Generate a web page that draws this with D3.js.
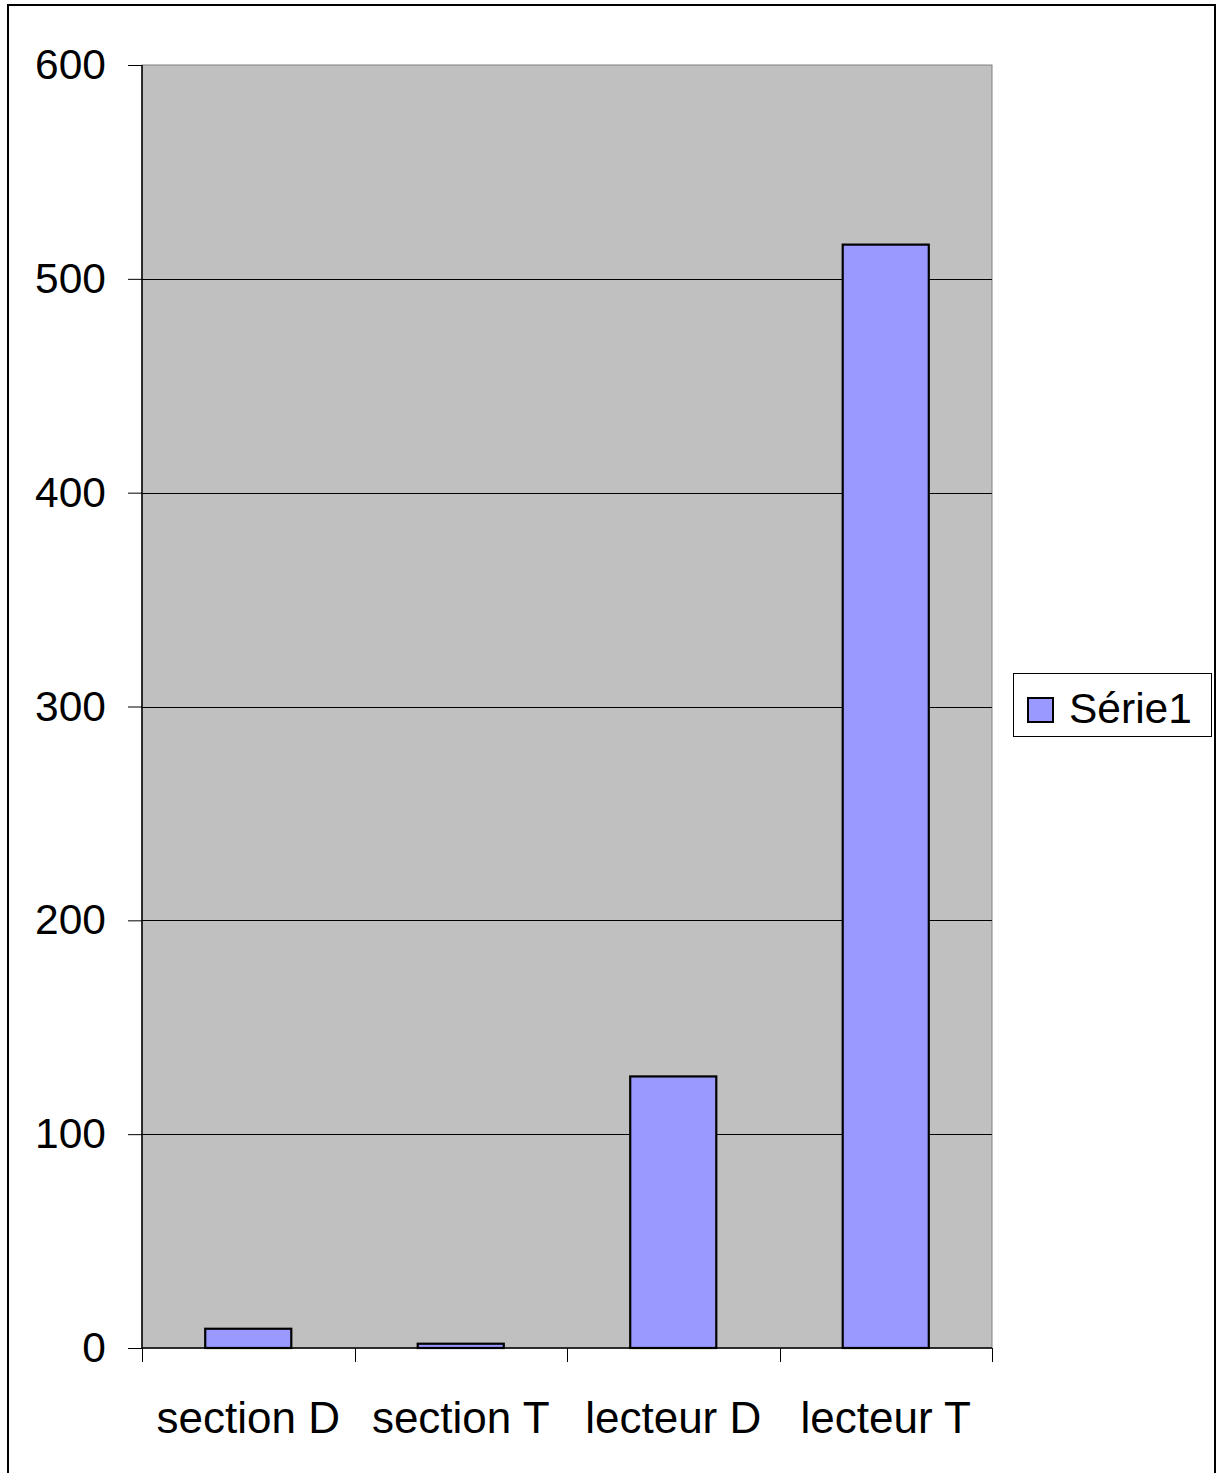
<!DOCTYPE html>
<html>
<head>
<meta charset="utf-8">
<script src="https://cdn.jsdelivr.net/npm/d3@7"></script>
<style>
  html, body { margin: 0; padding: 0; background: #fff; }
  svg { display: block; }
  text { font-family: "Liberation Sans", Arial, sans-serif; fill: #000; }
</style>
</head>
<body>
<svg id="chart" width="1220" height="1473"></svg>
<script>
// Chart data
const categories = ["section D", "section T", "lecteur D", "lecteur T"];
const values = [9, 2, 127, 516];
const yTicks = [0, 100, 200, 300, 400, 500, 600];
const seriesName = "Série1";

const svg = d3.select("#chart");
const plot = { left: 142, top: 65, right: 992, bottom: 1348 };

// Outer frame
svg.append("rect")
  .attr("x", 8).attr("y", 5)
  .attr("width", 1207).attr("height", 1490)
  .attr("fill", "#fff").attr("stroke", "#000").attr("stroke-width", 2);

const x = d3.scaleBand()
  .domain(categories)
  .range([plot.left, plot.right])
  .paddingInner(0.595).paddingOuter(0.2975);

const band = d3.scaleBand().domain(categories).range([plot.left, plot.right]);

const y = d3.scaleLinear().domain([0, 600]).range([plot.bottom, plot.top]);

// Plot background
svg.append("rect")
  .attr("x", plot.left).attr("y", plot.top)
  .attr("width", plot.right - plot.left).attr("height", plot.bottom - plot.top)
  .attr("fill", "#c0c0c0").attr("stroke", "#808080").attr("stroke-width", 1);

// Horizontal gridlines
svg.append("g")
  .selectAll("line")
  .data(yTicks.filter(d => d > 0 && d < 600))
  .join("line")
  .attr("x1", plot.left).attr("x2", plot.right)
  .attr("y1", d => Math.round(y(d)) + 0.5).attr("y2", d => Math.round(y(d)) + 0.5)
  .attr("stroke", "#000").attr("stroke-width", 1);

// Bars
svg.append("g")
  .selectAll("rect")
  .data(values)
  .join("rect")
  .attr("x", (d, i) => x(categories[i]))
  .attr("width", x.bandwidth())
  .attr("y", d => y(d))
  .attr("height", d => y(0) - y(d))
  .attr("fill", "#9999ff")
  .attr("stroke", "#000").attr("stroke-width", 2.2);

// Y axis
const yAxis = d3.axisLeft(y).tickValues(yTicks).tickSize(14).tickPadding(22).tickFormat(d3.format("d"));
const gy = svg.append("g").attr("transform", `translate(${plot.left},0)`).call(yAxis);
gy.select(".domain").attr("stroke", "#000").attr("stroke-width", 1.5).attr("d", `M0,${plot.top}V${plot.bottom}`);
gy.selectAll(".tick line").attr("stroke", "#000");
gy.selectAll(".tick text")
  .style("font-family", '"Liberation Sans", Arial, sans-serif')
  .attr("font-size", 42.5).attr("fill", "#000");

// X axis: ticks at category boundaries
const boundaries = categories.map(c => band(c)).concat([plot.right]);
svg.append("line")
  .attr("x1", plot.left).attr("x2", plot.right)
  .attr("y1", plot.bottom).attr("y2", plot.bottom)
  .attr("stroke", "#000").attr("stroke-width", 1.5);
svg.append("g")
  .selectAll("line")
  .data(boundaries)
  .join("line")
  .attr("x1", d => Math.round(d) + 0.5).attr("x2", d => Math.round(d) + 0.5)
  .attr("y1", plot.bottom).attr("y2", plot.bottom + 14)
  .attr("stroke", "#000").attr("stroke-width", 1);
svg.append("g")
  .selectAll("text")
  .data(categories)
  .join("text")
  .attr("x", d => band(d) + band.bandwidth() / 2)
  .attr("y", 1433)
  .attr("text-anchor", "middle")
  .attr("font-size", 44)
  .text(d => d);

// Legend
const legend = svg.append("g");
legend.append("rect")
  .attr("x", 1013.5).attr("y", 673.5).attr("width", 198).attr("height", 63)
  .attr("fill", "#fff").attr("stroke", "#000").attr("stroke-width", 1);
legend.append("rect")
  .attr("x", 1028).attr("y", 698).attr("width", 25).attr("height", 24)
  .attr("fill", "#9999ff").attr("stroke", "#000").attr("stroke-width", 2);
legend.append("text")
  .attr("x", 1069).attr("y", 723)
  .attr("font-size", 42.5)
  .text(seriesName);
</script>
</body>
</html>
